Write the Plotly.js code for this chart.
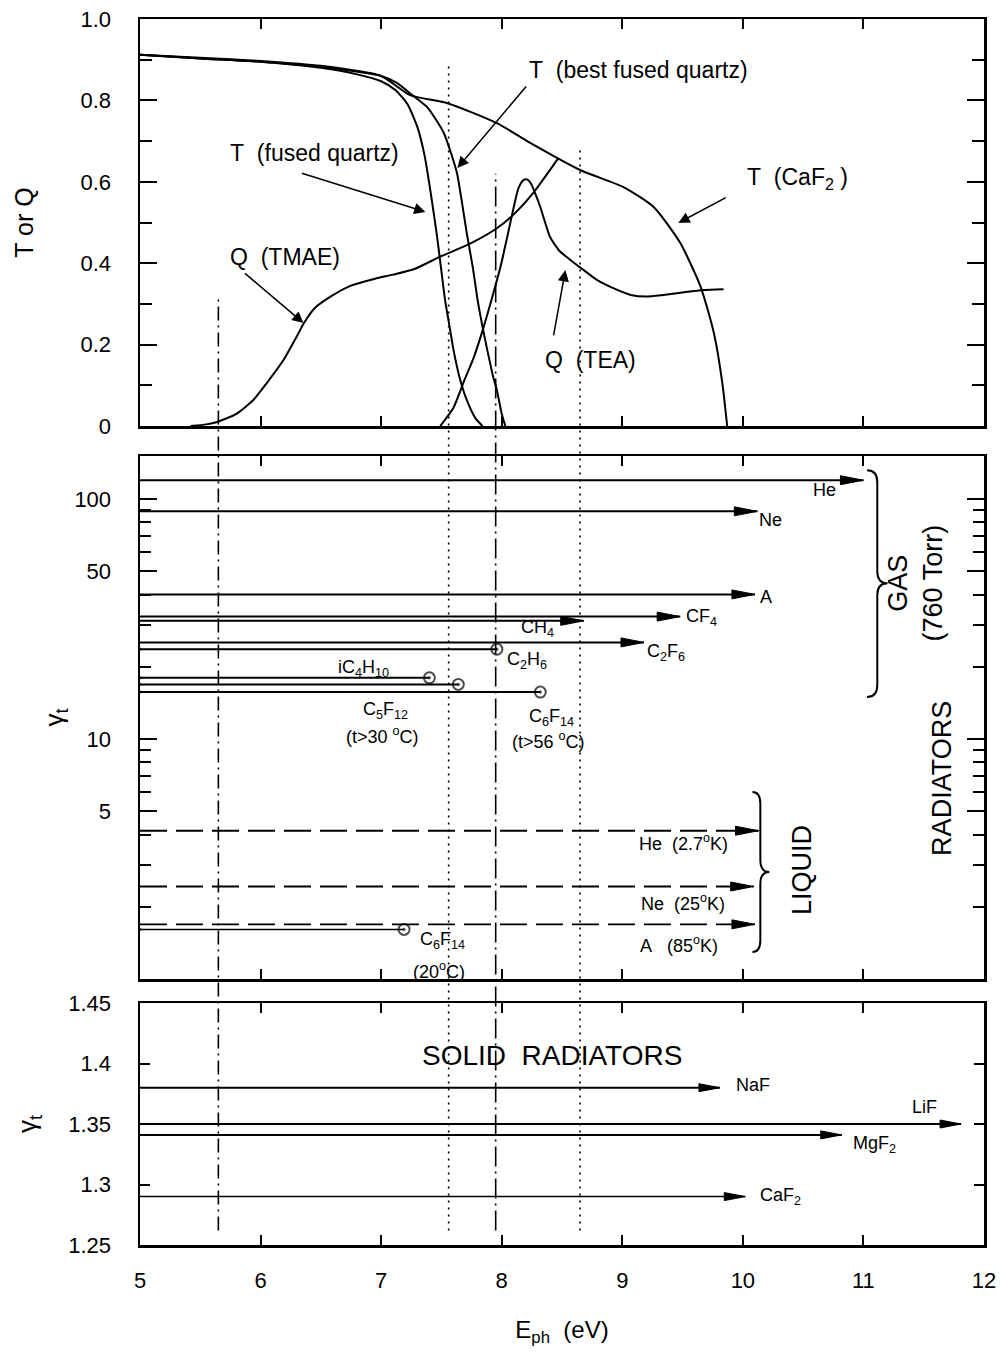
<!DOCTYPE html>
<html>
<head>
<meta charset="utf-8">
<script src="https://cdn.plot.ly/plotly-3.0.1.min.js"></script>
<style>
  html, body { margin: 0; padding: 0; background: #fff; }
  #chart { width: 1004px; height: 1357px; }
</style>
</head>
<body>
<div id="chart"></div>
<script>
// ================= DATA =================
// Panel 1: transmission T of windows and quantum efficiency Q of photocathode gases
const tFusedE = [5.0, 5.5, 6.0, 6.5, 6.8, 7.0, 7.12, 7.22, 7.30, 7.36, 7.41, 7.46, 7.50, 7.53, 7.57, 7.60, 7.65, 7.71, 7.78, 7.84];
const tFusedT = [0.912, 0.903, 0.895, 0.880, 0.864, 0.847, 0.825, 0.790, 0.735, 0.665, 0.575, 0.474, 0.380, 0.310, 0.240, 0.187, 0.120, 0.064, 0.020, 0.0];

const tBestE = [5.0, 5.5, 6.0, 6.5, 7.0, 7.13, 7.25, 7.38, 7.45, 7.52, 7.58, 7.63, 7.67, 7.71, 7.76, 7.80, 7.84, 7.88, 7.93, 7.96, 8.00, 8.03];
const tBestT = [0.912, 0.903, 0.895, 0.882, 0.860, 0.843, 0.815, 0.784, 0.755, 0.720, 0.670, 0.620, 0.550, 0.474, 0.390, 0.310, 0.245, 0.187, 0.120, 0.088, 0.030, 0.0];

const tCaF2E = [5.0, 5.5, 6.0, 6.5, 7.0, 7.24, 7.55, 7.96, 8.24, 8.65, 9.01, 9.26, 9.48, 9.65, 9.76, 9.83, 9.87];
const tCaF2T = [0.912, 0.905, 0.897, 0.885, 0.860, 0.813, 0.793, 0.744, 0.695, 0.629, 0.587, 0.538, 0.450, 0.342, 0.228, 0.105, 0.0];

const qTmaeE = [5.42, 5.55, 5.64, 5.80, 5.94, 6.05, 6.19, 6.30, 6.36, 6.45, 6.58, 6.75, 6.95, 7.10, 7.27, 7.49, 7.75, 7.96, 8.10, 8.26, 8.47];
const qTmaeQ = [0.0, 0.004, 0.010, 0.030, 0.064, 0.105, 0.162, 0.220, 0.253, 0.290, 0.318, 0.345, 0.362, 0.372, 0.385, 0.416, 0.450, 0.486, 0.520, 0.572, 0.658];

const qTeaE = [7.49, 7.60, 7.68, 7.77, 7.85, 7.92, 7.99, 8.05, 8.10, 8.14, 8.18, 8.21, 8.24, 8.28, 8.32, 8.36, 8.40, 8.48, 8.57, 8.68, 8.79, 8.93, 9.07, 9.20, 9.34, 9.50, 9.67, 9.84];
const qTeaQ = [0.0, 0.045, 0.105, 0.170, 0.243, 0.315, 0.391, 0.470, 0.538, 0.585, 0.604, 0.606, 0.597, 0.570, 0.538, 0.500, 0.465, 0.430, 0.408, 0.383, 0.359, 0.338, 0.322, 0.318, 0.322, 0.328, 0.334, 0.336];

// Panel 2: gas radiators (760 Torr) - threshold gamma and transparency cut-off energy
const gasNames   = ['He', 'Ne', 'A', 'CF4', 'CH4', 'C2F6'];
const gasGamma   = [120, 89, 40.1, 32.4, 31.1, 25.3];
const gasCutoff  = [11.0, 10.12, 10.10, 9.48, 8.68, 9.18];
// gases/vapours that end with an absorption edge (circle)
const vapNames   = ['C2H6', 'iC4H10', 'C5F12', 'C6F14'];
const vapGamma   = [23.7, 18.0, 16.9, 15.7];
const vapCutoff  = [7.96, 7.40, 7.64, 8.32];
// liquid radiators
const liqNames   = ['He (2.7K)', 'Ne (25K)', 'A (85K)'];
const liqGamma   = [4.15, 2.43, 1.69];
const liqCutoff  = [10.13, 10.09, 10.10];
const liqC6F14Gamma  = [1.61];
const liqC6F14Cutoff = [7.19];

// Panel 3: solid radiators
const solidNames  = ['NaF', 'LiF', 'MgF2', 'CaF2'];
const solidGamma  = [1.38, 1.35, 1.341, 1.29];
const solidCutoff = [9.81, 11.81, 10.82, 10.02];

// Vertical reference lines (photon energy) and where they start in panel 1
const refE     = [5.65, 7.56, 7.95, 8.65];
const refTop   = [0.317, 0.885, 0.62, 0.686];
const refBottomGamma = 1.262;

// Axis ranges / ticks
const xRange  = [5, 12];
const xTicks  = [5, 6, 7, 8, 9, 10, 11, 12];
const y1Range = [0, 1];
const y1Ticks = [0, 0.2, 0.4, 0.6, 0.8, 1.0];
const y1Text  = ['0', '0.2', '0.4', '0.6', '0.8', '1.0'];
const y2LogRange = [0, 2.18];
const y2Ticks = [5, 10, 50, 100];
const y2Minor = [2, 3, 4, 6, 7, 8, 9, 20, 30, 40, 60, 70, 80, 90];
const y3Range = [1.25, 1.45];
const y3Ticks = [1.25, 1.3, 1.35, 1.4, 1.45];
const y3Text  = ['1.25', '1.3', '1.35', '1.4', '1.45'];

// ================= LAYOUT GEOMETRY =================
const W = 1004, H = 1357;
const M = { l: 140, r: 20, t: 19, b: 112 };
const plotH = H - M.t - M.b;
function dom(topPx, botPx) { return [(H - M.b - botPx) / plotH, (H - M.b - topPx) / plotH]; }
const d1 = dom(19, 426), d2 = dom(456, 979), d3 = dom(1003, 1245);
const p1 = v => d1[0] + (v - y1Range[0]) / (y1Range[1] - y1Range[0]) * (d1[1] - d1[0]);
const p2 = L => d2[0] + (L - y2LogRange[0]) / (y2LogRange[1] - y2LogRange[0]) * (d2[1] - d2[0]);
const p3 = v => d3[0] + (v - y3Range[0]) / (y3Range[1] - y3Range[0]) * (d3[1] - d3[0]);

const FONT = 'Liberation Sans, Arial, Helvetica, sans-serif';
const NB = '\u00a0';
const BLK = '#000';

// ================= TRACES =================
const traces = [];
function curve(x, y) {
  traces.push({ x, y, xaxis: 'x', yaxis: 'y', mode: 'lines', hoverinfo: 'skip',
    line: { color: BLK, width: 2, shape: 'spline', smoothing: 0.6 } });
}
curve(tFusedE, tFusedT);
curve(tBestE, tBestT);
curve(tCaF2E, tCaF2T);
curve(qTmaeE, qTmaeQ);
curve(qTeaE, qTeaQ);

const shapes = [];
function head(xa, ya, x, y, len, half) {
  shapes.push({ type: 'path', xref: xa, yref: ya, xsizemode: 'pixel', ysizemode: 'pixel',
    xanchor: x, yanchor: y, path: `M0,0 L${-len},${half} L${-len},${-half} Z`,
    fillcolor: BLK, line: { color: BLK, width: 1 }, layer: 'above' });
}
const circleMarker = { size: [0, 11], symbol: 'circle-open-dot', color: BLK, line: { width: 2, color: BLK } };

gasGamma.forEach((g, i) => {
  traces.push({ x: [xRange[0], gasCutoff[i]], y: [g, g], xaxis: 'x2', yaxis: 'y2', mode: 'lines',
    name: gasNames[i], hoverinfo: 'skip', line: { color: BLK, width: 2 } });
  head('x2', 'y2', gasCutoff[i], g, 23, 4.5);
});
vapGamma.forEach((g, i) => {
  traces.push({ x: [xRange[0], vapCutoff[i]], y: [g, g], xaxis: 'x2', yaxis: 'y2', mode: 'lines+markers',
    name: vapNames[i], hoverinfo: 'skip', line: { color: BLK, width: 2 }, marker: circleMarker });
});
liqGamma.forEach((g, i) => {
  traces.push({ x: [xRange[0], liqCutoff[i]], y: [g, g], xaxis: 'x2', yaxis: 'y2', mode: 'lines',
    name: liqNames[i], hoverinfo: 'skip', line: { color: BLK, width: 1.8, dash: '27px,9px' } });
  head('x2', 'y2', liqCutoff[i], g, 23, 4.5);
});
traces.push({ x: [xRange[0], liqC6F14Cutoff[0]], y: [liqC6F14Gamma[0], liqC6F14Gamma[0]], xaxis: 'x2', yaxis: 'y2',
  mode: 'lines+markers', name: 'C6F14 (20C)', hoverinfo: 'skip', line: { color: BLK, width: 1.5 },
  marker: circleMarker });

solidGamma.forEach((g, i) => {
  traces.push({ x: [xRange[0], solidCutoff[i]], y: [g, g], xaxis: 'x3', yaxis: 'y3', mode: 'lines',
    name: solidNames[i], hoverinfo: 'skip', line: { color: BLK, width: i === 3 ? 1.5 : 2 } });
  head('x3', 'y3', solidCutoff[i], g, 21, 4);
});

// ================= VERTICAL REFERENCE LINES =================
const refDash = ['14px,5px,2px,5px', '2px,5px', '20px,5px,2px,5px', '2px,5px'];
refE.forEach((e, i) => {
  shapes.push({ type: 'line', xref: 'x', yref: 'paper', x0: e, x1: e, y0: p3(refBottomGamma), y1: p1(refTop[i]),
    line: { color: BLK, width: 1.6, dash: refDash[i] } });
});

// ================= BRACES =================
function brace(xEnd, xStem, xTip, Ltop, Lmid, Lbot) {
  const yt = p2(Ltop), ym = p2(Lmid), yb = p2(Lbot), r = 12 / plotH;
  const path = `M${xEnd},${yt} Q${xStem},${yt} ${xStem},${yt - r} L${xStem},${ym + r} ` +
    `Q${xStem},${ym} ${xTip},${ym} Q${xStem},${ym} ${xStem},${ym - r} L${xStem},${yb + r} ` +
    `Q${xStem},${yb} ${xEnd},${yb}`;
  shapes.push({ type: 'path', xref: 'x', yref: 'paper', path, line: { color: BLK, width: 2 } });
}
brace(11.03, 11.115, 11.20, 2.121, 1.65, 1.175);
brace(10.08, 10.145, 10.22, 0.779, 0.446, 0.1125);

// ================= ANNOTATIONS =================
const annotations = [];
function txt(xa, ya, x, y, text, size, opts) {
  annotations.push(Object.assign({ xref: xa, yref: ya, x, y, text, showarrow: false,
    font: { family: FONT, size, color: BLK }, xanchor: 'center', yanchor: 'middle' }, opts || {}));
}
function arr(x, y, ax, ay) {
  annotations.push({ xref: 'x', yref: 'y', axref: 'x', ayref: 'y', x, y, ax, ay, text: '',
    showarrow: true, arrowhead: 2, arrowsize: 1.5, arrowwidth: 1.5, arrowcolor: BLK, standoff: 0 });
}
// Panel 1 labels
txt('x', 'y', 5.726, 0.671, 'T' + NB + NB + '(fused quartz)', 23, { xanchor: 'left' });
txt('x', 'y', 8.213, 0.875, 'T' + NB + NB + '(best fused quartz)', 23, { xanchor: 'left' });
txt('x', 'y', 10.02, 0.609, 'T' + NB + NB + '(CaF<sub>2</sub>' + NB + ')', 23, { xanchor: 'left' });
txt('x', 'y', 5.726, 0.415, 'Q' + NB + NB + '(TMAE)', 23, { xanchor: 'left' });
txt('x', 'y', 8.345, 0.162, 'Q' + NB + NB + '(TEA)', 23, { xanchor: 'left' });
arr(7.367, 0.526, 6.33, 0.622);
arr(7.633, 0.634, 8.213, 0.838);
arr(9.465, 0.499, 9.871, 0.563);
arr(6.356, 0.253, 5.858, 0.378);
arr(8.528, 0.383, 8.428, 0.219);

// Panel 2 labels (y given as log10 on the log axis)
const s2 = 18;
txt('x2', 'y2', 10.68, 2.0375, 'He', s2);
txt('x2', 'y2', 10.23, 1.9125, 'Ne', s2);
txt('x2', 'y2', 10.19, 1.592, 'A', s2);
txt('x2', 'y2', 9.66, 1.508, 'CF<sub>4</sub>', s2);
txt('x2', 'y2', 8.30, 1.4625, 'CH<sub>4</sub>', s2);
txt('x2', 'y2', 9.36, 1.3625, 'C<sub>2</sub>F<sub>6</sub>', s2);
txt('x2', 'y2', 8.21, 1.329, 'C<sub>2</sub>H<sub>6</sub>', s2);
txt('x2', 'y2', 6.85, 1.296, 'iC<sub>4</sub>H<sub>10</sub>', s2);
txt('x2', 'y2', 7.04, 1.121, 'C<sub>5</sub>F<sub>12</sub>', s2);
txt('x2', 'y2', 7.01, 1.017, '(t>30' + NB + '<sup>o</sup>C)', s2);
txt('x2', 'y2', 8.41, 1.092, 'C<sub>6</sub>F<sub>14</sub>', s2);
txt('x2', 'y2', 8.39, 0.996, '(t>56' + NB + '<sup>o</sup>C)', s2);
txt('x2', 'y2', 9.51, 0.567, 'He' + NB + NB + '(2.7<sup>o</sup>K)', s2);
txt('x2', 'y2', 9.50, 0.317, 'Ne' + NB + NB + '(25<sup>o</sup>K)', s2);
txt('x2', 'y2', 9.47, 0.142, 'A' + NB + NB + NB + '(85<sup>o</sup>K)', s2);
txt('x2', 'y2', 7.51, 0.1625, 'C<sub>6</sub>F<sub>14</sub>', s2);
txt('x2', 'y2', 7.48, 0.0375, '(20<sup>o</sup>C)', s2);
txt('x2', 'y2', 11.43, 1.65, 'GAS<br>(760 Torr)', 27, { textangle: -90 });
txt('x2', 'y2', 10.49, 0.454, 'LIQUID', 27, { textangle: -90 });
txt('x2', 'y2', 11.65, 0.8375, 'RADIATORS', 27, { textangle: -90 });

// Panel 3 labels
txt('x3', 'y3', 10.08, 1.382, 'NaF', s2);
txt('x3', 'y3', 11.51, 1.364, 'LiF', s2);
txt('x3', 'y3', 11.09, 1.333, 'MgF<sub>2</sub>', s2);
txt('x3', 'y3', 10.31, 1.29, 'CaF<sub>2</sub>', s2);
txt('x3', 'y3', 8.42, 1.407, 'SOLID' + NB + NB + 'RADIATORS', 28);

// ================= AXES =================
const tickFont = { family: FONT, size: 22, color: BLK };
const base = { showline: true, linewidth: 2.5, linecolor: BLK, mirror: 'allticks', ticks: 'inside',
  tickwidth: 2, tickcolor: BLK, showgrid: false, zeroline: false, tickfont: tickFont, fixedrange: true };
const xBase = Object.assign({}, base, { range: xRange, tickmode: 'array', tickvals: xTicks, ticklen: 10 });

const layout = {
  width: W, height: H, margin: M, paper_bgcolor: '#fff', plot_bgcolor: '#fff', showlegend: false,
  font: { family: FONT, color: BLK },
  xaxis:  Object.assign({}, xBase, { anchor: 'y', showticklabels: false }),
  xaxis2: Object.assign({}, xBase, { anchor: 'y2', matches: 'x', showticklabels: false }),
  xaxis3: Object.assign({}, xBase, { anchor: 'y3', matches: 'x', showticklabels: true, ticklabelstandoff: 14,
    title: { text: 'E<sub>ph</sub>' + NB + NB + '(eV)', font: { family: FONT, size: 24, color: BLK }, standoff: 30 } }),
  yaxis: Object.assign({}, base, { domain: d1, range: y1Range, tickmode: 'array', tickvals: y1Ticks, ticktext: y1Text,
    ticklen: 17, ticklabelstandoff: 22,
    minor: { tickvals: [0.1, 0.3, 0.5, 0.7, 0.9], ticklen: 12, ticks: 'inside', tickwidth: 2, tickcolor: BLK },
    title: { text: 'T or Q', font: { family: FONT, size: 25, color: BLK }, standoff: 40 } }),
  yaxis2: Object.assign({}, base, { domain: d2, type: 'log', range: y2LogRange, tickmode: 'array', tickvals: y2Ticks,
    ticktext: y2Ticks.map(String), ticklen: 17, ticklabelstandoff: 22,
    minor: { tickvals: y2Minor, ticklen: 11, ticks: 'inside', tickwidth: 2, tickcolor: BLK },
    title: { text: 'γ<sub>t</sub>', font: { family: FONT, size: 26, color: BLK }, standoff: 4 } }),
  yaxis3: Object.assign({}, base, { domain: d3, range: y3Range, tickmode: 'array', tickvals: y3Ticks, ticktext: y3Text,
    ticklen: 10, ticklabelstandoff: 22,
    title: { text: 'γ<sub>t</sub>', font: { family: FONT, size: 26, color: BLK }, standoff: 24 } }),
  shapes, annotations
};

Plotly.newPlot('chart', traces, layout, { staticPlot: true, displayModeBar: false });
</script>
</body>
</html>
